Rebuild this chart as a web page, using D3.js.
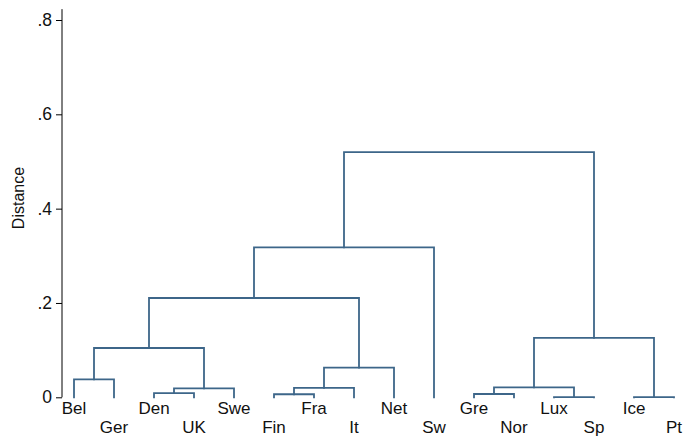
<!DOCTYPE html>
<html>
<head>
<meta charset="utf-8">
<script src="https://cdn.jsdelivr.net/npm/d3@7"></script>
<style>
  html, body { margin: 0; padding: 0; background: #fff; }
  svg { display: block; font-family: "Liberation Sans", Arial, Helvetica, sans-serif; }
</style>
</head>
<body>
<svg id="chart" width="686" height="442"></svg>
<script>
// Leaf labels in dendrogram order
const leaves = ["Bel", "Ger", "Den", "UK", "Swe", "Fin", "Fra", "It", "Net", "Sw",
                "Gre", "Nor", "Lux", "Sp", "Ice", "Pt"];

// Linkage: merge k creates node 16 + k from nodes mergeA[k] and mergeB[k]
const mergeA = [12, 14, 5, 2, 10, 19, 18, 20, 0, 22, 24, 23, 26, 28, 29];
const mergeB = [13, 15, 6, 3, 11, 4, 7, 16, 1, 8, 21, 17, 25, 9, 27];
const mergeHeight = [0.0005, 0.0005, 0.0065, 0.009, 0.007, 0.019, 0.020, 0.021,
                     0.038, 0.063, 0.1045, 0.126, 0.2105, 0.318, 0.520];

const yTicks = [0, 0.2, 0.4, 0.6, 0.8];
const yTickLabels = ["0", ".2", ".4", ".6", ".8"];

const svg = d3.select("#chart");
const lineColor = "#3d6689";

const x = d3.scalePoint().domain(leaves).range([54, 694]).padding(0.5);
const y = d3.scaleLinear().domain([0, 0.8]).range([397.3, 20]);

// Node positions: leaves at their point, clusters at the midpoint of their children
const nodeX = leaves.map(d => x(d));
const nodeH = leaves.map(() => 0);
mergeA.forEach((a, k) => {
  const b = mergeB[k];
  nodeX.push((nodeX[a] + nodeX[b]) / 2);
  nodeH.push(mergeHeight[k]);
});

// Links
const g = svg.append("g");
mergeA.forEach((a, k) => {
  const b = mergeB[k];
  const h = mergeHeight[k];
  const p = d3.path();
  p.moveTo(nodeX[a], y(nodeH[a]));
  p.lineTo(nodeX[a], y(h));
  p.lineTo(nodeX[b], y(h));
  p.lineTo(nodeX[b], y(nodeH[b]));
  g.append("path")
    .attr("d", p.toString())
    .attr("fill", "none")
    .attr("stroke", lineColor)
    .attr("stroke-width", 1.8)
    .attr("stroke-linejoin", "miter")
    .attr("stroke-linecap", "square");
});

// Y axis
const yAxis = d3.axisLeft(y)
  .tickValues(yTicks)
  .tickFormat((d, i) => yTickLabels[i])
  .tickSize(6)
  .tickSizeOuter(0)
  .tickPadding(4);
const ax = svg.append("g").attr("transform", "translate(62,0)").call(yAxis);
ax.select(".domain").remove();
ax.append("line")
  .attr("x1", 0).attr("x2", 0)
  .attr("y1", y(0)).attr("y2", y(0.823))
  .attr("stroke", "#000").attr("stroke-width", 1);
ax.selectAll(".tick line").attr("stroke", "#000");
ax.selectAll(".tick text")
  .attr("font-size", 17.5)
  .attr("font-family", "'Liberation Sans', Arial, sans-serif")
  .attr("fill", "#111");

// Axis title
svg.append("text")
  .attr("transform", "translate(24,198) rotate(-90)")
  .attr("text-anchor", "middle")
  .attr("font-size", 16)
  .attr("fill", "#111")
  .text("Distance");

// Leaf labels, alternating rows
svg.append("g").selectAll("text")
  .data(leaves)
  .join("text")
  .attr("x", d => x(d))
  .attr("y", (d, i) => i % 2 === 0 ? 414 : 432.7)
  .attr("text-anchor", "middle")
  .attr("font-size", 17)
  .attr("fill", "#111")
  .text(d => d);
</script>
</body>
</html>
